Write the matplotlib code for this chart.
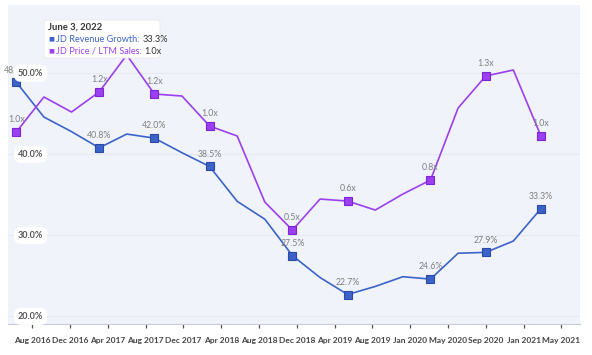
import numpy as np
import matplotlib
matplotlib.use("Agg")
import matplotlib.pyplot as plt
from matplotlib.patches import FancyBboxPatch

plt.rcParams['font.family'] = ['Lato', 'DejaVu Sans']

# data (quarterly points)
revenue_growth = [48.9, 44.6, 42.8, 40.8, 42.5, 42.0, 40.2, 38.5, 34.2, 32.0,
                  27.5, 24.8, 22.7, 23.7, 24.9, 24.6, 27.8, 27.9, 29.3, 33.3]
price_sales = [0.99, 1.165, 1.09, 1.19, 1.375, 1.18, 1.17, 1.02, 0.97, 0.64,
               0.50, 0.655, 0.645, 0.60, 0.68, 0.75, 1.11, 1.27, 1.30, 0.97]
labelled = [0, 3, 5, 7, 10, 12, 15, 17, 19]
tick_labels = ['Aug 2016', 'Dec 2016', 'Apr 2017', 'Aug 2017', 'Dec 2017',
               'Apr 2018', 'Aug 2018', 'Dec 2018', 'Apr 2019', 'Aug 2019',
               'Jan 2020', 'May 2020', 'Sep 2020', 'Jan 2021', 'May 2021']
y_ticks = [20, 30, 40, 50]

blue = '#3b63c8'
blue_edge = '#2a4aa6'
purple = '#9b3ff0'
purple_edge = '#7b25d4'
bg = '#f0f3fa'

x = np.arange(len(revenue_growth))

fig = plt.figure(figsize=(5.92, 3.55), dpi=100)
ax = fig.add_axes([0.014, 0.087, 0.966, 0.899])
ax.set_facecolor(bg)
ax2 = ax.twinx()

ax.set_xlim(-0.29, 20.42)
ax.set_ylim(19.05, 58.43)
ax2.set_ylim(0.03, 1.625)

# lines
ax.plot(x, revenue_growth, color=blue, lw=1.2, zorder=3)
ax2.plot(x, price_sales, color=purple, lw=1.2, zorder=3)
ax.plot(x[labelled], np.array(revenue_growth)[labelled], ls='none', marker='s',
        ms=5.8, mfc=blue, mec=blue_edge, mew=0.8, zorder=4)
ax2.plot(x[labelled], np.array(price_sales)[labelled], ls='none', marker='s',
         ms=5.8, mfc=purple, mec=purple_edge, mew=0.8, zorder=4)

for i in labelled:
    ax.annotate('%.1f%%' % revenue_growth[i], (x[i], revenue_growth[i]),
                xytext=(0, 5.5), textcoords='offset points', ha='center',
                va='bottom', fontsize=6.3, color='#808080', zorder=5)
    ax2.annotate('%.1fx' % price_sales[i], (x[i], price_sales[i]),
                 xytext=(0, 5.5), textcoords='offset points', ha='center',
                 va='bottom', fontsize=6.3, color='#808080', zorder=5)

# grid and y labels inside the plot
for v in y_ticks:
    ax.axhline(v, color='#e6e9f2', lw=0.8, zorder=1)
    ax.text(0.017, v, '%.1f%%' % v, transform=ax.get_yaxis_transform(),
            ha='left', va='center', fontsize=6.5, color='#555555',
            fontweight='bold', zorder=6,
            bbox=dict(boxstyle='round,pad=0.45,rounding_size=0.8',
                      fc='white', ec='none'))

ax.set_yticks([])
ax2.set_yticks([])
ticks = np.linspace(0.58, 19.74, len(tick_labels))
ax.set_xticks(ticks)
ax.set_xticklabels(tick_labels, fontsize=6.0, color='#444444',
                   fontweight='bold')
ax.tick_params(axis='x', length=3, width=0.9, color='#555555', pad=6)
for s in ['top', 'right', 'left']:
    ax.spines[s].set_visible(False)
    ax2.spines[s].set_visible(False)
ax.spines['bottom'].set_color('#c8ccd6')
ax2.spines['bottom'].set_visible(False)

# tooltip
tip = FancyBboxPatch((44 / 592, 1 - 58 / 355), 116 / 592, 38 / 355,
                     boxstyle='round,pad=0,rounding_size=0.006',
                     transform=fig.transFigure, fc='white', ec='#e8e8e8',
                     lw=0.6, zorder=10)
fig.patches.append(tip)
tx = 48 / 592
fig.text(tx, 1 - 27 / 355, 'June 3, 2022', fontsize=6.8, fontweight='bold',
         color='#333333', va='center', zorder=11)
renderer = fig.canvas.get_renderer()
rows = [('JD Revenue Growth:', '33.3%', blue, 39),
        ('JD Price / LTM Sales:', '1.0x', purple, 51)]
for name, val, col, ypix in rows:
    fig.text(tx, 1 - ypix / 355, '■', fontsize=4.5, color=col, va='center',
             family='DejaVu Sans', zorder=11)
    t = fig.text(tx + 8 / 592, 1 - ypix / 355, name, fontsize=6.6, color=col,
                 va='center', zorder=11)
    bb = t.get_window_extent(renderer)
    fig.text((bb.x1 + 3) / 592, 1 - ypix / 355, val, fontsize=6.6,
             color='#333333', va='center', zorder=11)

fig.savefig('out.png', dpi=100)
